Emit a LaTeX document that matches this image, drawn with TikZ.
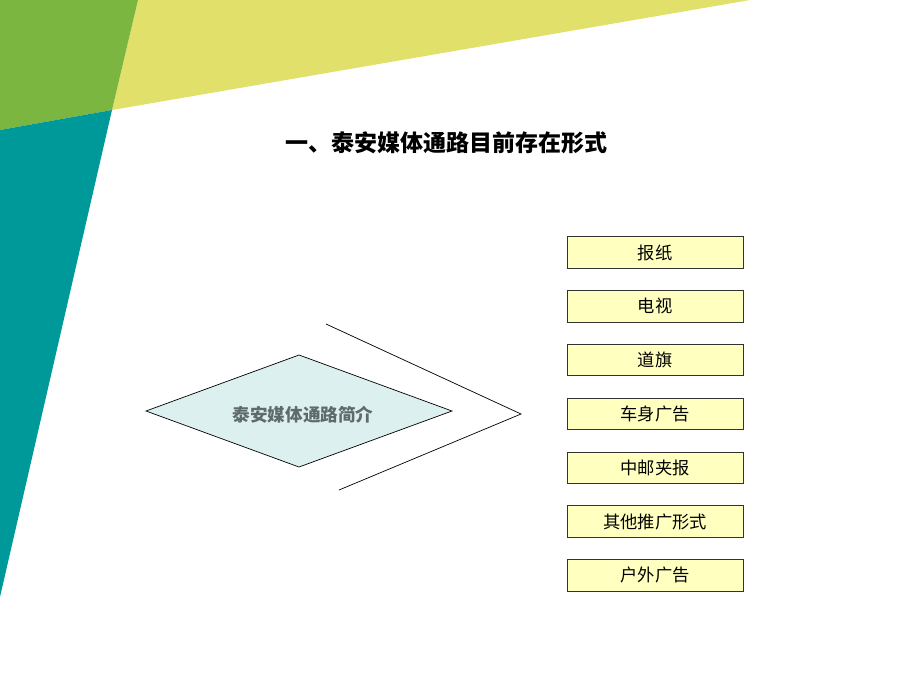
\documentclass[tikz,border=0pt]{standalone}
\usepackage{fontspec}
\newfontfamily\cjk{Noto Sans CJK SC}
\usetikzlibrary{shapes.geometric}
\definecolor{bggreen}{HTML}{7AB640}
\definecolor{bgyellow}{HTML}{E1E06A}
\definecolor{bgteal}{HTML}{009999}
\definecolor{diafill}{HTML}{DDF0F0}
\definecolor{diatext}{HTML}{5F6B6B}
\definecolor{boxfill}{HTML}{FFFFC0}
\begin{document}
\begin{tikzpicture}[x=1pt,y=-1pt,
  itembox/.style={draw=black!80,fill=boxfill,line width=0.8pt,minimum width=176pt,minimum height=31.5pt,inner sep=0pt,font=\cjk\fontsize{17.3}{20}\selectfont},
  chev/.style={draw=black,line width=0.7pt}]
\useasboundingbox (0,0) rectangle (920,690);
% background shapes
\fill[bgyellow] (138,0) -- (750,0) -- (112,110) -- cycle;
\fill[bggreen] (0,0) -- (138,0) -- (112,110) -- (0,130) -- cycle;
\fill[bgteal] (0,130) -- (112,110) -- (0,597) -- cycle;
% title
\node (title) at (446,143) {\cjk\bfseries\fontsize{23}{27}\selectfont 一、泰安媒体通路目前存在形式};
% diamond
\draw[fill=diafill,line width=0.7pt] (146,411) -- (299,355) -- (452,411) -- (299,467) -- cycle;
\node[font=\cjk\bfseries\fontsize{17.6}{20}\selectfont,text=diatext] (dia) at (303,415) {泰安媒体通路简介};
% chevron
\coordinate (c1) at (326,324);
\coordinate (c2) at (521,414);
\coordinate (c3) at (339,490);
\draw[chev] (c1) -- (c2) -- (c3);
% boxes
\node[itembox] (b1) at (655,252.5) {报纸};
\node[itembox] (b2) at (655,306.3) {电视};
\node[itembox] (b3) at (655,360) {道旗};
\node[itembox] (b4) at (655,413.8) {车身广告};
\node[itembox] (b5) at (655,467.7) {中邮夹报};
\node[itembox] (b6) at (655,521.5) {其他推广形式};
\node[itembox] (b7) at (655,575.3) {户外广告};
\end{tikzpicture}
\end{document}
